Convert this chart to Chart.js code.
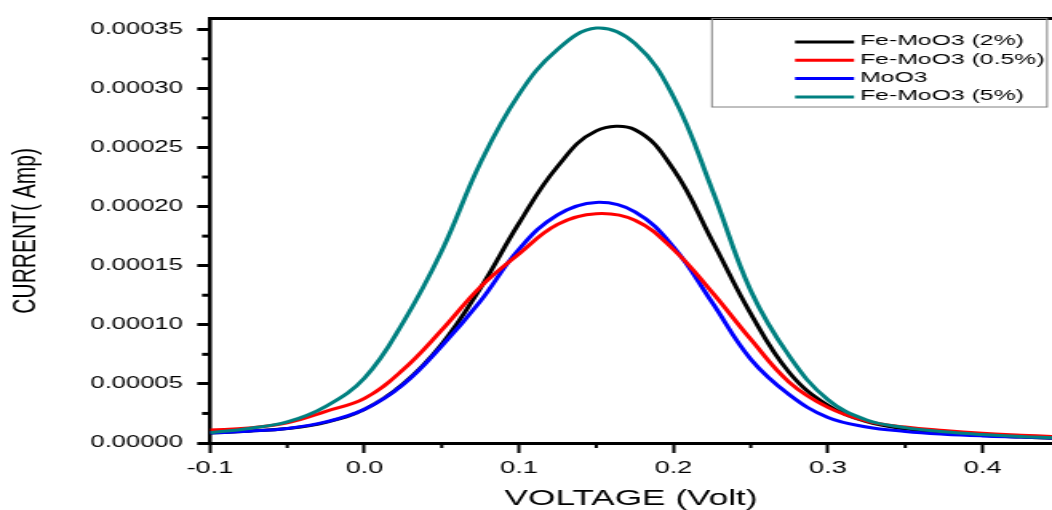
<!DOCTYPE html>
<html>
<head>
<meta charset="utf-8">
<script src="https://cdn.jsdelivr.net/npm/chart.js@4.4.0/dist/chart.umd.min.js"></script>
<style>
  html, body { margin: 0; padding: 0; background: #fff; }
  /* the original figure is stretched sideways, so the chart is drawn narrow and widened */
  #wrap { width: 658px; height: 510px; transform: scaleX(1.59878); transform-origin: 0 0; }
</style>
</head>
<body>
<div id="wrap"><canvas id="chart" width="658" height="510"></canvas></div>
<script>
// voltage (V)
const voltage = [-0.1, -0.075, -0.05, -0.025, 0, 0.025, 0.05, 0.075, 0.1, 0.125, 0.15,
                 0.175, 0.2, 0.225, 0.25, 0.275, 0.3, 0.325, 0.35, 0.375, 0.4, 0.425, 0.445];

// current (A)
const feMoO3_2 = [0.84e-5, 1.0e-5, 1.22e-5, 1.75e-5, 2.85e-5, 5.0e-5, 8.37e-5, 13.1e-5, 18.6e-5, 23.4e-5, 26.4e-5,
                  26.5e-5, 23.14e-5, 17.12e-5, 10.94e-5, 5.95e-5, 3.18e-5, 1.8e-5, 1.2e-5, 0.88e-5, 0.65e-5, 0.5e-5, 0.4e-5];
const feMoO3_05 = [1.09e-5, 1.28e-5, 1.70e-5, 2.68e-5, 3.77e-5, 6.2e-5, 9.55e-5, 13.2e-5, 16.0e-5, 18.5e-5, 19.4e-5,
                   18.84e-5, 16.37e-5, 12.75e-5, 8.77e-5, 5.13e-5, 3.01e-5, 1.85e-5, 1.35e-5, 1.05e-5, 0.82e-5, 0.66e-5, 0.55e-5];
const moO3 = [0.84e-5, 1.0e-5, 1.23e-5, 1.78e-5, 2.85e-5, 4.94e-5, 8.2e-5, 12.0e-5, 16.4e-5, 19.3e-5, 20.35e-5,
              19.55e-5, 16.58e-5, 11.89e-5, 7.09e-5, 4.08e-5, 2.15e-5, 1.35e-5, 0.98e-5, 0.75e-5, 0.6e-5, 0.5e-5, 0.42e-5];
const feMoO3_5 = [0.86e-5, 1.23e-5, 1.78e-5, 3.1e-5, 5.5e-5, 10.2e-5, 16.25e-5, 23.7e-5, 29.5e-5, 33.3e-5, 35.1e-5,
                  33.8e-5, 29.28e-5, 21.44e-5, 12.88e-5, 7.34e-5, 3.66e-5, 1.95e-5, 1.3e-5, 0.95e-5, 0.72e-5, 0.55e-5, 0.45e-5];

const seriesLabels = ['Fe-MoO3 (2%)', 'Fe-MoO3 (0.5%)', 'MoO3', 'Fe-MoO3 (5%)'];
const seriesValues = [feMoO3_2, feMoO3_05, moO3, feMoO3_5];
const seriesColors = ['#000000', '#ff0000', '#0000ff', '#008080'];
const drawOrder = [3, 1, 2, 0];

const FONT = '"Liberation Sans", Arial, sans-serif';

function toPoints(values) {
    return voltage.map((v, i) => ({ x: v, y: values[i] }));
}

const datasets = seriesLabels.map((label, i) => ({
    label: label,
    data: toPoints(seriesValues[i]),
    borderColor: seriesColors[i],
    backgroundColor: seriesColors[i],
    borderWidth: 3,
    pointRadius: 0,
    fill: false,
    tension: 0.4,
    order: drawOrder[i]
}));

// top frame line, minor ticks and the boxed legend
const extras = {
    id: 'extras',
    afterDraw(chart) {
        const { ctx, chartArea: a, scales: { x, y } } = chart;
        ctx.save();
        ctx.strokeStyle = '#000';
        ctx.lineWidth = 3;
        ctx.beginPath();
        ctx.moveTo(a.left, a.top);
        ctx.lineTo(a.right, a.top);
        ctx.stroke();

        ctx.lineWidth = 2;
        for (let v = -0.05; v < x.max; v += 0.1) {
            const px = x.getPixelForValue(v);
            ctx.beginPath();
            ctx.moveTo(px, a.bottom);
            ctx.lineTo(px, a.bottom + 5);
            ctx.stroke();
        }
        ctx.lineWidth = 3;
        for (let v = 0.000025; v < y.max; v += 0.00005) {
            const py = y.getPixelForValue(v);
            ctx.beginPath();
            ctx.moveTo(a.left, py);
            ctx.lineTo(a.left - 5, py);
            ctx.stroke();
        }

        // legend
        ctx.lineWidth = 1;
        ctx.strokeStyle = '#808080';
        ctx.strokeRect(445.3, 18.5, 209.6, 88.5);
        ctx.font = '15.5px ' + FONT;
        ctx.textBaseline = 'middle';
        ctx.textAlign = 'left';
        chart.data.datasets.forEach((ds, i) => {
            const ry = 42 + i * 18.3;
            ctx.strokeStyle = ds.borderColor;
            ctx.lineWidth = 3;
            ctx.beginPath();
            ctx.moveTo(497.3, ry);
            ctx.lineTo(534.2, ry);
            ctx.stroke();
            ctx.fillStyle = '#000';
            ctx.fillText(ds.label, 537.9, ry - 1);
        });
        ctx.restore();
    }
};

new Chart(document.getElementById('chart'), {
    type: 'line',
    data: { datasets: datasets },
    options: {
        responsive: false,
        animation: false,
        devicePixelRatio: 1,
        layout: { padding: { top: 14, right: 0, bottom: 0, left: 0 } },
        plugins: {
            legend: { display: false },
            tooltip: { enabled: false }
        },
        scales: {
            x: {
                type: 'linear',
                min: -0.1,
                max: 0.445,
                border: { color: '#000', width: 3 },
                grid: { drawOnChartArea: false, tickLength: 10, tickWidth: 2, tickColor: '#000' },
                ticks: {
                    stepSize: 0.1,
                    includeBounds: false,
                    autoSkip: false,
                    maxRotation: 0,
                    padding: 5,
                    color: '#000',
                    font: { family: FONT, size: 17 },
                    callback: v => Math.abs(v) < 1e-9 ? '0.0' : v.toFixed(1)
                },
                title: {
                    display: true,
                    text: 'VOLTAGE (Volt)',
                    color: '#000',
                    font: { family: FONT, size: 22, lineHeight: 1 },
                    padding: { top: 0, bottom: 0 }
                },
                afterFit: s => { s.height = 67; }
            },
            y: {
                min: 0,
                max: 0.000359,
                border: { color: '#000', width: 2.5 },
                grid: { drawOnChartArea: false, tickLength: 8, tickWidth: 3, tickColor: '#000' },
                ticks: {
                    stepSize: 0.00005,
                    includeBounds: false,
                    padding: 9,
                    color: '#000',
                    font: { family: FONT, size: 16 },
                    callback: v => v.toFixed(5)
                },
                title: {
                    display: true,
                    text: 'CURRENT( Amp)',
                    color: '#000',
                    font: { family: FONT, size: 21 },
                    padding: { top: 4, bottom: 0 }
                },
                afterFit: s => { s.width = 131.35; }
            }
        }
    },
    plugins: [extras]
});
</script>
</body>
</html>
